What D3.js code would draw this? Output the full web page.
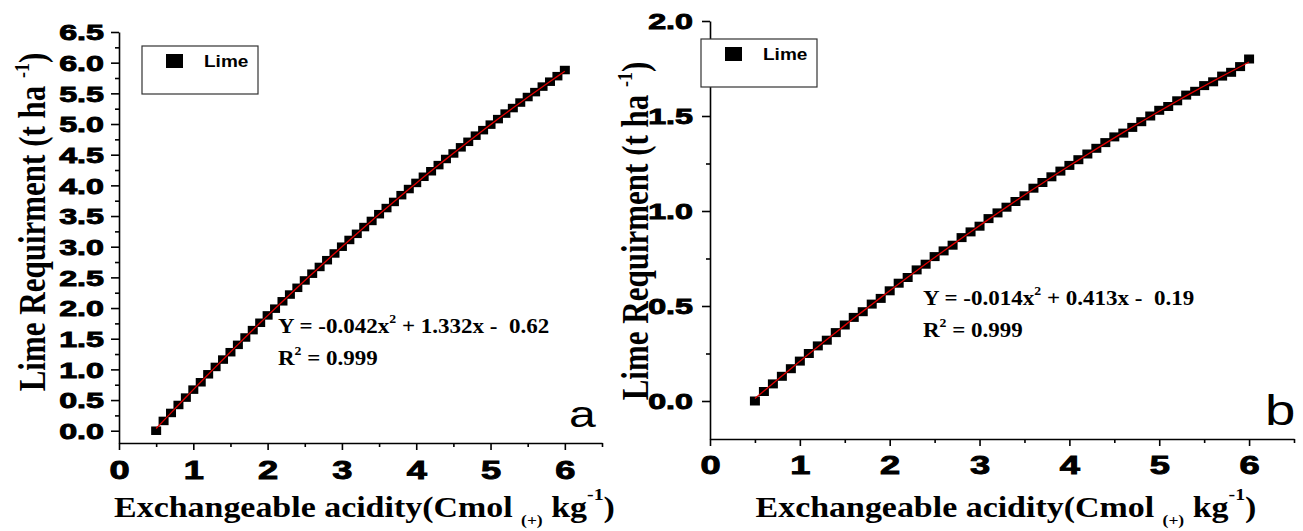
<!DOCTYPE html>
<html>
<head>
<meta charset="utf-8">
<script src="https://cdn.jsdelivr.net/npm/d3@7"></script>
<style>
  body { margin: 0; background: #fff; }
  .tick text { font-family: "Liberation Sans", Arial, sans-serif; font-weight: bold; fill: #000; }
  .serif { font-family: "Liberation Serif", "Times New Roman", serif; font-weight: bold; fill: #000; }
  .sans { font-family: "Liberation Sans", Arial, sans-serif; fill: #000; }
</style>
</head>
<body>
<svg id="chart" width="1303" height="531"></svg>
<script>
// Exchangeable acidity values (x), same for both panels
var acidity = [0.5, 0.6, 0.7, 0.8, 0.9, 1.0, 1.1, 1.2, 1.3, 1.4, 1.5, 1.6, 1.7, 1.8, 1.9,
  2.0, 2.1, 2.2, 2.3, 2.4, 2.5, 2.6, 2.7, 2.8, 2.9, 3.0, 3.1, 3.2, 3.3, 3.4, 3.5, 3.6, 3.7,
  3.8, 3.9, 4.0, 4.1, 4.2, 4.3, 4.4, 4.5, 4.6, 4.7, 4.8, 4.9, 5.0, 5.1, 5.2, 5.3, 5.4, 5.5,
  5.6, 5.7, 5.8, 5.9, 6.0];

// Lime requirement, panel a
var limeA = [0.00, 0.16, 0.29, 0.42, 0.54, 0.67, 0.79, 0.92, 1.04, 1.16, 1.28, 1.40, 1.52,
  1.64, 1.76, 1.88, 1.99, 2.11, 2.22, 2.33, 2.45, 2.56, 2.67, 2.78, 2.89, 3.00, 3.11, 3.21,
  3.32, 3.42, 3.53, 3.63, 3.73, 3.84, 3.94, 4.04, 4.14, 4.23, 4.33, 4.43, 4.52, 4.62, 4.71,
  4.81, 4.90, 4.99, 5.08, 5.17, 5.26, 5.35, 5.44, 5.52, 5.61, 5.69, 5.78, 5.88];

// Lime requirement, panel b
var limeB = [0.00, 0.05, 0.09, 0.13, 0.17, 0.21, 0.25, 0.29, 0.32, 0.36, 0.40, 0.44, 0.47,
  0.51, 0.54, 0.58, 0.62, 0.65, 0.69, 0.72, 0.76, 0.79, 0.82, 0.86, 0.89, 0.92, 0.96, 0.99,
  1.02, 1.05, 1.08, 1.12, 1.15, 1.18, 1.21, 1.24, 1.27, 1.30, 1.33, 1.36, 1.39, 1.41, 1.44,
  1.47, 1.50, 1.53, 1.55, 1.58, 1.61, 1.63, 1.66, 1.68, 1.71, 1.73, 1.76, 1.80];

// fitted polynomial coefficients [c0, c1, c2] as printed on the chart
var fitA = [-0.62, 1.332, -0.042];
var fitB = [-0.19, 0.413, -0.014];
var eqA = ["Y = -0.042x", " + 1.332x -\u00a0 0.62"];
var eqB = ["Y = -0.014x", " + 0.413x -\u00a0 0.19"];
var r2Text = " = 0.999";

// ticks
var xTicks = [0, 1, 2, 3, 4, 5, 6];
var xMinor = [0.5, 1.5, 2.5, 3.5, 4.5, 5.5, 6.5];
var yTicksA = [0, 0.5, 1, 1.5, 2, 2.5, 3, 3.5, 4, 4.5, 5, 5.5, 6, 6.5];
var yMinorA = [0.25, 0.75, 1.25, 1.75, 2.25, 2.75, 3.25, 3.75, 4.25, 4.75, 5.25, 5.75, 6.25];
var yTicksB = [0, 0.5, 1, 1.5, 2];
var yMinorB = [0.25, 0.75, 1.25, 1.75];

var legendLabel = "Lime";

var svg = d3.select("#chart");

function drawPanel(p) {
  var g = svg.append("g");

  var x = d3.scaleLinear().domain([0, 6.5]).range([p.left, p.right]);
  var y = d3.scaleLinear().domain(p.yDomain).range([p.bottom, p.top]);

  // minor ticks first
  g.append("g")
    .attr("transform", `translate(0, ${p.bottom})`)
    .call(d3.axisBottom(x).tickValues(xMinor).tickSize(4).tickSizeOuter(0).tickFormat(""))
    .call(a => a.select(".domain").remove());
  g.append("g")
    .attr("transform", `translate(${p.left}, 0)`)
    .call(d3.axisLeft(y).tickValues(p.yMinor).tickSize(4).tickSizeOuter(0).tickFormat(""))
    .call(a => a.select(".domain").remove());

  // main x axis
  var xAxis = g.append("g")
    .attr("transform", `translate(0, ${p.bottom})`)
    .call(d3.axisBottom(x).tickValues(xTicks).tickSize(7).tickSizeOuter(0).tickFormat(d3.format("d")));
  xAxis.selectAll("text")
    .attr("y", 0).attr("dy", null)
    .attr("transform", `translate(0, ${p.xLabelDy}) scale(1.45, 1)`)
    .style("font-size", "25px")
    .attr("stroke", "#000").attr("stroke-width", 0.9);

  // main y axis
  var yAxis = g.append("g")
    .attr("transform", `translate(${p.left}, 0)`)
    .call(d3.axisLeft(y).tickValues(p.yTicks).tickSize(8).tickSizeOuter(0).tickFormat(d3.format(".1f")));
  yAxis.selectAll("text")
    .attr("x", 0).attr("dy", "0.36em")
    .attr("transform", `translate(${-p.yLabelDx}, 0) scale(1.5, 1)`)
    .style("font-size", "21.5px")
    .attr("stroke", "#000").attr("stroke-width", 0.9);

  g.selectAll(".domain, .tick line").attr("stroke", "#000").attr("stroke-width", 1.6);

  // data squares
  g.append("g")
    .selectAll("rect")
    .data(p.values)
    .enter()
    .append("rect")
    .attr("x", (d, i) => x(acidity[i]) - 5)
    .attr("y", d => y(d) - p.markH / 2)
    .attr("width", 10)
    .attr("height", p.markH)
    .attr("fill", "#000");

  // fitted curve
  var line = d3.line()
    .x(d => x(d))
    .y(d => y(p.fit[0] + p.fit[1] * d + p.fit[2] * d * d));
  g.append("path")
    .datum(acidity)
    .attr("d", line)
    .attr("fill", "none")
    .attr("stroke", "#e00000")
    .attr("stroke-width", 1.3);

  // legend
  var lg = p.legend;
  g.append("rect")
    .attr("x", lg.x).attr("y", lg.y).attr("width", 116).attr("height", 48)
    .attr("fill", "#fff").attr("stroke", "#333").attr("stroke-width", 1.2);
  g.append("rect")
    .attr("x", lg.x + 24).attr("y", lg.y + 8).attr("width", 17).attr("height", 14)
    .attr("fill", "#000");
  g.append("text")
    .attr("class", "sans")
    .attr("transform", `translate(${lg.x + 62}, ${lg.y + 21}) scale(1.12, 1)`)
    .style("font-size", "17px").style("font-weight", "bold")
    .text(legendLabel);

  // y axis title
  var yt = g.append("text")
    .attr("class", "serif")
    .attr("text-anchor", "middle")
    .attr("transform", `translate(${p.yTitleX}, ${p.yTitleY}) rotate(-90) scale(1, 1.2)`)
    .style("font-size", "31px");
  yt.append("tspan").text("Lime Requirment (t ha ");
  yt.append("tspan").attr("dy", -13).style("font-size", "18px").text("-1");
  yt.append("tspan").attr("dy", 13).text(")");

  // x axis title
  var xt = g.append("text")
    .attr("class", "serif")
    .attr("text-anchor", "middle")
    .attr("transform", `translate(${(p.left + p.right) / 2 + 4}, ${p.xTitleY}) scale(1.17, 1)`)
    .style("font-size", "29px");
  xt.append("tspan").text("Exchangeable acidity(Cmol ");
  xt.append("tspan").attr("dy", 8).style("font-size", "15px").text("(+)");
  xt.append("tspan").attr("dy", -8).text(" kg");
  xt.append("tspan").attr("dy", -17).style("font-size", "17px").text("-1");
  xt.append("tspan").attr("dy", 17).text(")");

  // equation
  var eq = g.append("text")
    .attr("class", "serif")
    .attr("transform", `translate(${p.eqX}, ${p.eqY}) scale(1.15, 1)`)
    .style("font-size", "20px");
  eq.append("tspan").text(p.eq[0]);
  eq.append("tspan").attr("dy", -10).style("font-size", "12px").text("2");
  eq.append("tspan").attr("dy", 10).text(p.eq[1]);

  var r2 = g.append("text")
    .attr("class", "serif")
    .attr("transform", `translate(${p.eqX}, ${p.eqY + 32}) scale(1.15, 1)`)
    .style("font-size", "20px");
  r2.append("tspan").text("R");
  r2.append("tspan").attr("dy", -10).style("font-size", "12px").text("2");
  r2.append("tspan").attr("dy", 10).text(r2Text);

  // panel letter
  g.append("text")
    .attr("class", "sans")
    .attr("transform", `translate(${p.letterX}, ${p.letterY}) scale(1.3, 1)`)
    .style("font-size", p.letterSize + "px")
    .text(p.letter);
}

drawPanel({
  left: 119, right: 602, top: 32, bottom: 443, yDomain: [-0.2, 6.5],
  yTicks: yTicksA, yMinor: yMinorA, values: limeA, fit: fitA, eq: eqA, markH: 8.5,
  xLabelDy: 36, yLabelDx: 15,
  legend: { x: 142, y: 46 },
  yTitleX: 45, yTitleY: 222, xTitleY: 517,
  eqX: 278, eqY: 333,
  letter: "a", letterX: 569, letterY: 427, letterSize: 37
});

drawPanel({
  left: 710, right: 1294, top: 21, bottom: 439, yDomain: [-0.2, 2.0],
  yTicks: yTicksB, yMinor: yMinorB, values: limeB, fit: fitB, eq: eqB, markH: 9,
  xLabelDy: 35, yLabelDx: 17,
  legend: { x: 701, y: 39 },
  yTitleX: 648, yTitleY: 231, xTitleY: 517,
  eqX: 923, eqY: 305,
  letter: "b", letterX: 1265, letterY: 425, letterSize: 42
});
</script>
</body>
</html>
